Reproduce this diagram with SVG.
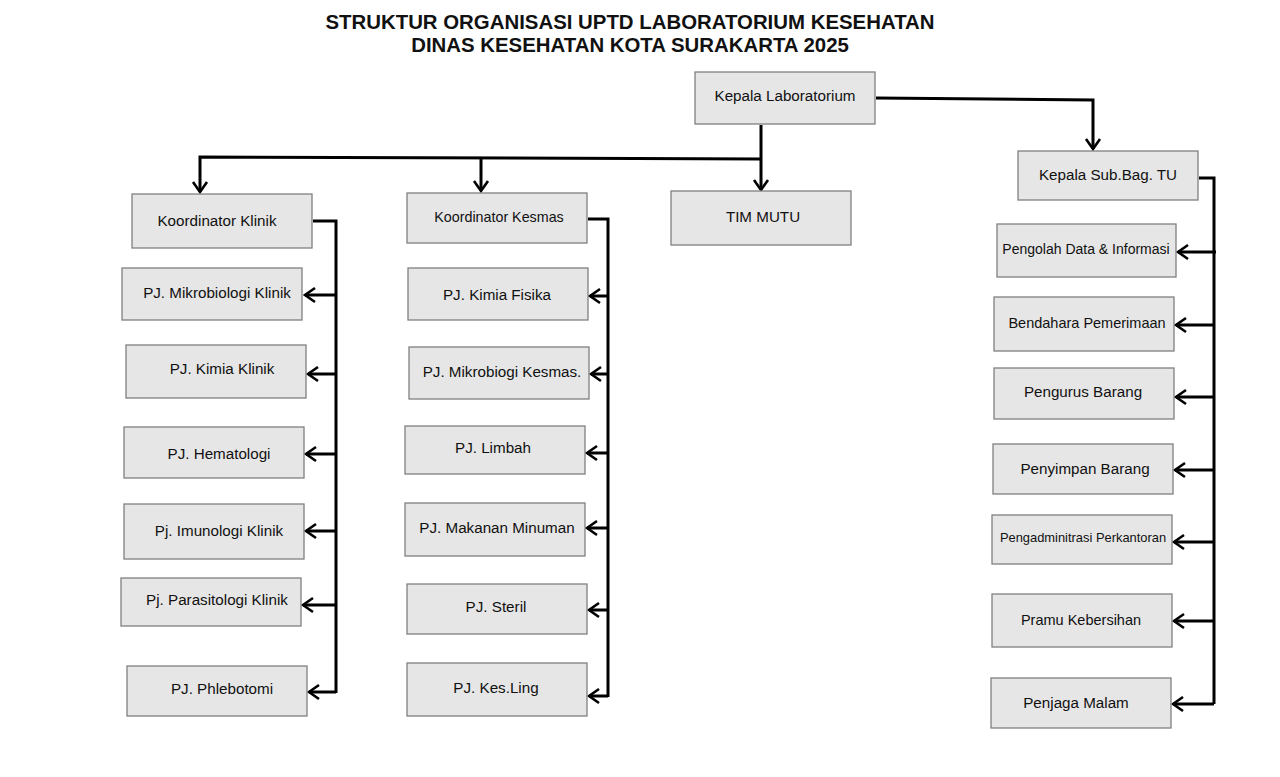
<svg xmlns="http://www.w3.org/2000/svg" width="1280" height="777" viewBox="0 0 1280 777">
<style>
.box{fill:#e6e6e6;stroke:#808080;stroke-width:1.3}
.t{font-family:"Liberation Sans",Arial,sans-serif;font-size:15.2px;fill:#111;text-anchor:middle;dominant-baseline:middle}
.title{font-family:"Liberation Sans",Arial,sans-serif;font-size:20.4px;font-weight:bold;fill:#111;text-anchor:middle}
.ln{fill:none;stroke:#000;stroke-width:3;stroke-linejoin:miter}
</style>
<defs>
<marker id="a" markerUnits="userSpaceOnUse" markerWidth="20" markerHeight="20" viewBox="-12 -10 14 20" refX="0" refY="0" orient="auto">
<polyline points="-10,-7 0,0 -10,7" fill="none" stroke="#000" stroke-width="2.6"/>
</marker>
</defs>
<rect width="1280" height="777" fill="#fff"/>
<text class="title" x="630" y="29">STRUKTUR ORGANISASI UPTD LABORATORIUM KESEHATAN</text>
<text class="title" x="630" y="52">DINAS KESEHATAN KOTA SURAKARTA 2025</text>

<g id="connectors">
<polyline class="ln" points="876,98 1093,100 1093,149" marker-end="url(#a)"/>
<polyline class="ln" points="761,125 761,190" marker-end="url(#a)"/>
<polyline class="ln" points="761,159 200,157 200,192" marker-end="url(#a)"/>
<polyline class="ln" points="481,158 481,191" marker-end="url(#a)"/>
<polyline class="ln" points="313,221 336,221 336,693"/>
<polyline class="ln" points="336,295 305,295" marker-end="url(#a)"/>
<polyline class="ln" points="336,374 308,374" marker-end="url(#a)"/>
<polyline class="ln" points="336,454 306,454" marker-end="url(#a)"/>
<polyline class="ln" points="336,531 306,531" marker-end="url(#a)"/>
<polyline class="ln" points="336,605 303,605" marker-end="url(#a)"/>
<polyline class="ln" points="336,692 309,692" marker-end="url(#a)"/>
<polyline class="ln" points="588,219 608,219 608,697"/>
<polyline class="ln" points="608,296 590,296" marker-end="url(#a)"/>
<polyline class="ln" points="608,374 591,374" marker-end="url(#a)"/>
<polyline class="ln" points="608,453 587,453" marker-end="url(#a)"/>
<polyline class="ln" points="608,528 587,528" marker-end="url(#a)"/>
<polyline class="ln" points="608,610 589,610" marker-end="url(#a)"/>
<polyline class="ln" points="608,696 589,696" marker-end="url(#a)"/>
<polyline class="ln" points="1199,178 1214,178 1214,704"/>
<polyline class="ln" points="1216,252 1178,252" marker-end="url(#a)"/>
<polyline class="ln" points="1214,325 1176,325" marker-end="url(#a)"/>
<polyline class="ln" points="1214,397 1176,397" marker-end="url(#a)"/>
<polyline class="ln" points="1214,470 1175,470" marker-end="url(#a)"/>
<polyline class="ln" points="1214,542 1174,542" marker-end="url(#a)"/>
<polyline class="ln" points="1214,621 1174,621" marker-end="url(#a)"/>
<polyline class="ln" points="1214,704 1173,704" marker-end="url(#a)"/>
</g>

<g id="kepala-lab"><rect class="box" x="695" y="72" width="180" height="52"/><text class="t" x="785" y="97">Kepala Laboratorium</text></g>
<g id="kepala-tu"><rect class="box" x="1018" y="151" width="180" height="49"/><text class="t" x="1108" y="176">Kepala Sub.Bag. TU</text></g>
<g id="tim-mutu"><rect class="box" x="671" y="191" width="180" height="54"/><text class="t" x="763" y="218">TIM MUTU</text></g>

<g id="koord-klinik"><rect class="box" x="132" y="194" width="180" height="54"/><text class="t" x="217" y="222">Koordinator Klinik</text></g>
<g id="pj-mikro-klinik"><rect class="box" x="122" y="268" width="180" height="52"/><text class="t" x="217" y="294">PJ. Mikrobiologi Klinik</text></g>
<g id="pj-kimia-klinik"><rect class="box" x="126" y="345" width="180" height="53"/><text class="t" x="222" y="370">PJ. Kimia Klinik</text></g>
<g id="pj-hematologi"><rect class="box" x="124" y="427" width="180" height="51"/><text class="t" x="219" y="455">PJ. Hematologi</text></g>
<g id="pj-imunologi"><rect class="box" x="124" y="504" width="180" height="55"/><text class="t" x="219" y="532">Pj. Imunologi Klinik</text></g>
<g id="pj-parasitologi"><rect class="box" x="121" y="578" width="180" height="48"/><text class="t" x="217" y="601">Pj. Parasitologi Klinik</text></g>
<g id="pj-phlebotomi"><rect class="box" x="127" y="666" width="180" height="50"/><text class="t" x="222" y="690">PJ. Phlebotomi</text></g>

<g id="koord-kesmas"><rect class="box" x="407" y="193" width="180" height="50"/><text class="t" x="499" y="218" style="font-size:14.3px">Koordinator Kesmas</text></g>
<g id="pj-kimia-fisika"><rect class="box" x="408" y="268" width="180" height="52"/><text class="t" x="497" y="296">PJ. Kimia Fisika</text></g>
<g id="pj-mikro-kesmas"><rect class="box" x="409" y="347" width="180" height="52"/><text class="t" x="502" y="373">PJ. Mikrobiogi Kesmas.</text></g>
<g id="pj-limbah"><rect class="box" x="405" y="426" width="180" height="48"/><text class="t" x="493" y="449">PJ. Limbah</text></g>
<g id="pj-makanan"><rect class="box" x="405" y="503" width="180" height="53"/><text class="t" x="497" y="529">PJ. Makanan Minuman</text></g>
<g id="pj-steril"><rect class="box" x="407" y="584" width="180" height="50"/><text class="t" x="496" y="608">PJ. Steril</text></g>
<g id="pj-kesling"><rect class="box" x="407" y="663" width="180" height="53"/><text class="t" x="496" y="689">PJ. Kes.Ling</text></g>

<g id="pengolah-data"><rect class="box" x="997" y="224" width="179" height="53"/><text class="t" x="1086" y="250" style="font-size:14px">Pengolah Data &amp; Informasi</text></g>
<g id="bendahara"><rect class="box" x="994" y="297" width="180" height="54"/><text class="t" x="1087" y="324" style="font-size:14.5px">Bendahara Pemerimaan</text></g>
<g id="pengurus-barang"><rect class="box" x="994" y="368" width="180" height="51"/><text class="t" x="1083" y="393">Pengurus Barang</text></g>
<g id="penyimpan-barang"><rect class="box" x="993" y="444" width="180" height="50"/><text class="t" x="1085" y="470">Penyimpan Barang</text></g>
<g id="pengadministrasi"><rect class="box" x="992" y="515" width="180" height="49"/><text class="t" x="1083" y="539" style="font-size:12.9px">Pengadminitrasi Perkantoran</text></g>
<g id="pramu"><rect class="box" x="992" y="594" width="180" height="53"/><text class="t" x="1081" y="621" style="font-size:14.5px">Pramu Kebersihan</text></g>
<g id="penjaga-malam"><rect class="box" x="991" y="678" width="180" height="50"/><text class="t" x="1076" y="704">Penjaga Malam</text></g>
</svg>
